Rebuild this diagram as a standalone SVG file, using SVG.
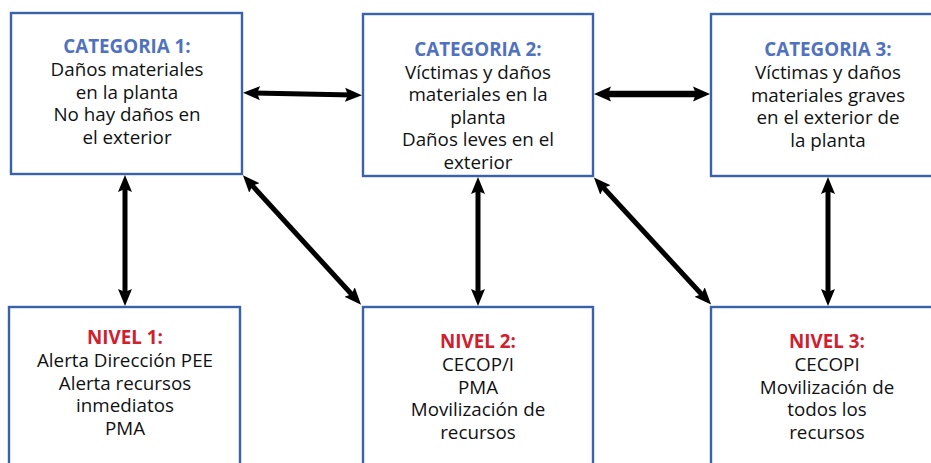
<svg xmlns="http://www.w3.org/2000/svg" width="931" height="463" viewBox="0 0 931 463">
<style>
.box{fill:#fff;stroke:#3A62A8;stroke-width:2.4}
text{font-family:"Open Sans","Noto Sans","DejaVu Sans",sans-serif;font-size:18.8px;fill:#111;text-anchor:middle}
.cat{fill:#5072BE;font-weight:bold}
.niv{fill:#D0202E;font-weight:bold}
.arr{stroke:#000;stroke-width:5;fill:none;marker-start:url(#ah);marker-end:url(#ah)}
.thick{stroke-width:6.5;marker-start:url(#ah2);marker-end:url(#ah2)}
</style>
<defs>
<marker id="ah" markerUnits="userSpaceOnUse" markerWidth="22" markerHeight="18" viewBox="0 -9 22 18" refX="8" refY="0" orient="auto-start-reverse">
<path d="M0,-7 L17,0 L0,7 L3,0 z" fill="#000"/>
</marker>
<marker id="ah2" markerUnits="userSpaceOnUse" markerWidth="22" markerHeight="18" viewBox="0 -9 22 18" refX="8" refY="0" orient="auto-start-reverse">
<path d="M0,-7.5 L17,0 L0,7.5 L3,0 z" fill="#000"/>
</marker>
</defs>
<g id="cat1">
<rect class="box" x="11" y="13" width="231" height="161"/>
<text x="127" y="53"><tspan class="cat">CATEGORIA 1:</tspan><tspan x="127" dy="22.8">Daños materiales</tspan><tspan x="127" dy="22.8">en la planta</tspan><tspan x="127" dy="22.8">No hay daños en</tspan><tspan x="127" dy="22.8">el exterior</tspan></text>
</g>
<g id="cat2">
<rect class="box" x="363" y="14" width="230" height="162"/>
<text x="478" y="56"><tspan class="cat">CATEGORIA 2:</tspan><tspan x="478" dy="22.5">Víctimas y daños</tspan><tspan x="478" dy="22.5">materiales en la</tspan><tspan x="478" dy="22.5">planta</tspan><tspan x="478" dy="22.5">Daños leves en el</tspan><tspan x="478" dy="22.5">exterior</tspan></text>
</g>
<g id="cat3">
<rect class="box" x="711" y="14" width="234" height="162"/>
<text x="828" y="56"><tspan class="cat">CATEGORIA 3:</tspan><tspan x="828" dy="22.75">Víctimas y daños</tspan><tspan x="828" dy="22.75">materiales graves</tspan><tspan x="828" dy="22.75">en el exterior de</tspan><tspan x="828" dy="22.75">la planta</tspan></text>
</g>
<g id="niv1">
<rect class="box" x="9" y="307" width="231" height="170"/>
<text x="125" y="344"><tspan class="niv">NIVEL 1:</tspan><tspan x="125" dy="22.75">Alerta Dirección PEE</tspan><tspan x="125" dy="22.75">Alerta recursos</tspan><tspan x="125" dy="22.75">inmediatos</tspan><tspan x="125" dy="22.75">PMA</tspan></text>
</g>
<g id="niv2">
<rect class="box" x="363" y="307" width="230" height="170"/>
<text x="478" y="348"><tspan class="niv">NIVEL 2:</tspan><tspan x="478" dy="22.75">CECOP/I</tspan><tspan x="478" dy="22.75">PMA</tspan><tspan x="478" dy="22.75">Movilización de</tspan><tspan x="478" dy="22.75">recursos</tspan></text>
</g>
<g id="niv3">
<rect class="box" x="711" y="307" width="234" height="170"/>
<text x="827" y="348"><tspan class="niv">NIVEL 3:</tspan><tspan x="827" dy="22.75">CECOPI</tspan><tspan x="827" dy="22.75">Movilización de</tspan><tspan x="827" dy="22.75">todos los</tspan><tspan x="827" dy="22.75">recursos</tspan></text>
</g>
<g id="connectors">
<line class="arr" x1="252" y1="93" x2="353" y2="95"/>
<line class="arr thick" x1="603" y1="94" x2="701" y2="94"/>
<line class="arr" x1="125" y1="184" x2="125" y2="297"/>
<line class="arr" x1="478" y1="186" x2="478" y2="297"/>
<line class="arr" x1="828" y1="186" x2="828" y2="297"/>
<line class="arr" x1="249" y1="182" x2="355" y2="298"/>
<line class="arr" x1="600" y1="184" x2="705" y2="298"/>
</g>
</svg>
